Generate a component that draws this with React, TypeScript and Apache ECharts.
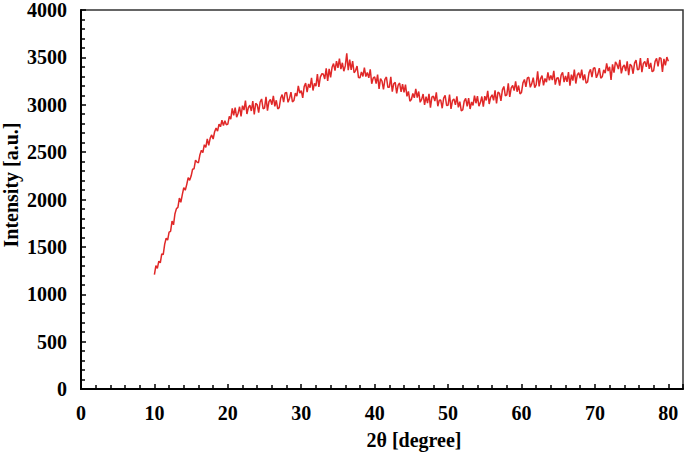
import React, { useEffect, useRef } from "react";
import * as echarts from "echarts";

// 2θ grid: 10.0 → 80.0 in 0.2° steps (one row below = one degree, 5 readings)
const twoThetaStart = 10;
const twoThetaStep = 0.2;

// Intensity readings (a.u.) estimated from the reference pattern, noise included
const intensity: number[] = [
  1208, 1302, 1273, 1349, 1332, // 10
  1426, 1419, 1529, 1591, 1572, // 11
  1655, 1664, 1772, 1733, 1850, // 12
  1904, 1916, 2015, 1970, 2051, // 13
  2126, 2098, 2157, 2231, 2203, // 14
  2247, 2319, 2325, 2415, 2394, // 15
  2388, 2473, 2519, 2496, 2578, // 16
  2549, 2640, 2572, 2648, 2682, // 17
  2638, 2715, 2753, 2722, 2796, // 18
  2768, 2836, 2781, 2831, 2788, // 19
  2795, 2877, 2849, 2961, 2888, // 20
  2970, 2868, 2911, 2979, 2877, // 21
  2990, 2944, 3043, 2902, 2971, // 22
  2995, 2934, 3038, 2897, 3016, // 23
  3000, 2917, 3029, 3061, 2958, // 24
  2965, 3084, 2938, 3032, 3056, // 25
  3000, 3094, 2983, 3047, 2956, // 26
  2970, 3071, 3107, 3028, 3124, // 27
  3130, 3026, 3067, 3133, 3029, // 28
  3045, 3123, 3091, 3199, 3122, // 29
  3150, 3073, 3191, 3229, 3132, // 30
  3220, 3180, 3285, 3150, 3225, // 31
  3195, 3324, 3188, 3292, 3326, // 32
  3325, 3272, 3384, 3251, 3378, // 33
  3290, 3395, 3435, 3360, 3460, // 34
  3390, 3486, 3377, 3443, 3354, // 35
  3410, 3542, 3364, 3476, 3368, // 36
  3460, 3338, 3361, 3409, 3287, // 37
  3285, 3347, 3299, 3391, 3298, // 38
  3340, 3284, 3373, 3222, 3281, // 39
  3295, 3224, 3318, 3167, 3276, // 40
  3250, 3161, 3267, 3293, 3184, // 41
  3185, 3294, 3138, 3222, 3236, // 42
  3120, 3207, 3229, 3136, 3218, // 43
  3130, 3212, 3089, 3141, 3038, // 44
  3055, 3119, 3073, 3167, 3076, // 45
  3140, 3026, 3057, 3113, 2999, // 46
  3085, 3018, 3116, 2969, 3082, // 47
  3090, 3038, 3131, 2984, 3047, // 48
  3050, 2963, 3071, 3099, 2992, // 49
  2995, 3108, 2956, 3044, 3062, // 50
  3000, 3089, 2973, 3032, 2936, // 51
  2945, 3039, 3068, 2982, 3071, // 52
  2955, 3029, 2993, 3097, 3016, // 53
  3090, 2984, 3023, 3087, 2981, // 54
  3090, 3046, 3147, 3008, 3079, // 55
  3105, 3046, 3152, 3013, 3134, // 56
  3120, 3041, 3157, 3193, 3094, // 57
  3105, 3226, 3082, 3178, 3204, // 58
  3150, 3246, 3137, 3203, 3114, // 59
  3130, 3231, 3267, 3188, 3284, // 60
  3290, 3184, 3223, 3287, 3181, // 61
  3210, 3352, 3194, 3276, 3308, // 62
  3205, 3277, 3239, 3341, 3258, // 63
  3310, 3261, 3357, 3213, 3279, // 64
  3285, 3201, 3312, 3343, 3239, // 65
  3305, 3242, 3344, 3201, 3318, // 66
  3255, 3372, 3224, 3316, 3338, // 67
  3280, 3372, 3259, 3321, 3228, // 68
  3240, 3339, 3373, 3292, 3386, // 69
  3390, 3284, 3323, 3387, 3281, // 70
  3295, 3369, 3333, 3437, 3356, // 71
  3400, 3263, 3426, 3339, 3452, // 72
  3425, 3377, 3474, 3331, 3398, // 73
  3420, 3356, 3457, 3313, 3429, // 74
  3410, 3327, 3439, 3471, 3368, // 75
  3375, 3492, 3344, 3436, 3458, // 76
  3400, 3492, 3379, 3441, 3348, // 77
  3360, 3457, 3489, 3406, 3498, // 78
  3490, 3347, 3484, 3416, 3503, // 79
  3460, // 80
];

const xAxisTitle = "2θ [degree]";
const yAxisTitle = "Intensity [a.u.]";

export default function App() {
  const ref = useRef<HTMLDivElement>(null);

  useEffect(() => {
    if (!ref.current) return;
    const chart = echarts.init(ref.current, undefined, { renderer: "svg" });
    const data = intensity.map((v, i) => [
      +(twoThetaStart + i * twoThetaStep).toFixed(1),
      v,
    ]);
    const font = "'Liberation Serif', 'Times New Roman', serif";
    chart.setOption({
      animation: false,
      backgroundColor: "#ffffff",
      grid: {
        left: 81,
        right: 2,
        top: 10,
        bottom: 67,
        show: true,
        borderColor: "#333333",
        borderWidth: 1.5,
      },
      xAxis: {
        type: "value",
        min: 0,
        max: 82,
        interval: 10,
        axisLine: { show: true, onZero: false, lineStyle: { color: "#000", width: 2 } },
        axisTick: { show: true, inside: true, length: 5, lineStyle: { color: "#000", width: 1.5 } },
        minorTick: { show: true, splitNumber: 5, length: 4, lineStyle: { color: "#000", width: 1.5 } },
        splitLine: { show: false },
        axisLabel: {
          showMaxLabel: false,
          margin: 14,
          color: "#000",
          fontFamily: font,
          fontWeight: "bold",
          fontSize: 20,
          formatter: (v: number) => String(v),
        },
      },
      yAxis: {
        type: "value",
        min: 0,
        max: 4000,
        interval: 500,
        axisLine: { show: true, onZero: false, lineStyle: { color: "#000", width: 2 } },
        axisTick: { show: true, inside: true, length: 5, lineStyle: { color: "#000", width: 1.5 } },
        minorTick: { show: true, splitNumber: 5, length: 4, lineStyle: { color: "#000", width: 1.5 } },
        splitLine: { show: false },
        axisLabel: {
          margin: 14,
          color: "#000",
          fontFamily: font,
          fontWeight: "bold",
          fontSize: 20,
          formatter: (v: number) => String(v),
        },
      },
      graphic: [
        {
          type: "text",
          x: 414,
          y: 440,
          style: {
            text: xAxisTitle,
            fill: "#000",
            font: `bold 20px ${font}`,
            align: "center",
            verticalAlign: "middle",
          },
        },
        {
          type: "text",
          x: 11,
          y: 185,
          rotation: Math.PI / 2,
          style: {
            text: yAxisTitle,
            fill: "#000",
            font: `bold 20px ${font}`,
            align: "center",
            verticalAlign: "middle",
          },
        },
      ],
      series: [
        {
          type: "line",
          data,
          showSymbol: false,
          symbol: "none",
          lineStyle: { color: "#e02828", width: 1.5 },
          z: 3,
        },
      ],
    });
    return () => chart.dispose();
  }, []);

  return (
    <div
      ref={ref}
      style={{ position: "fixed", left: 0, top: 0, width: 685, height: 456 }}
    />
  );
}
